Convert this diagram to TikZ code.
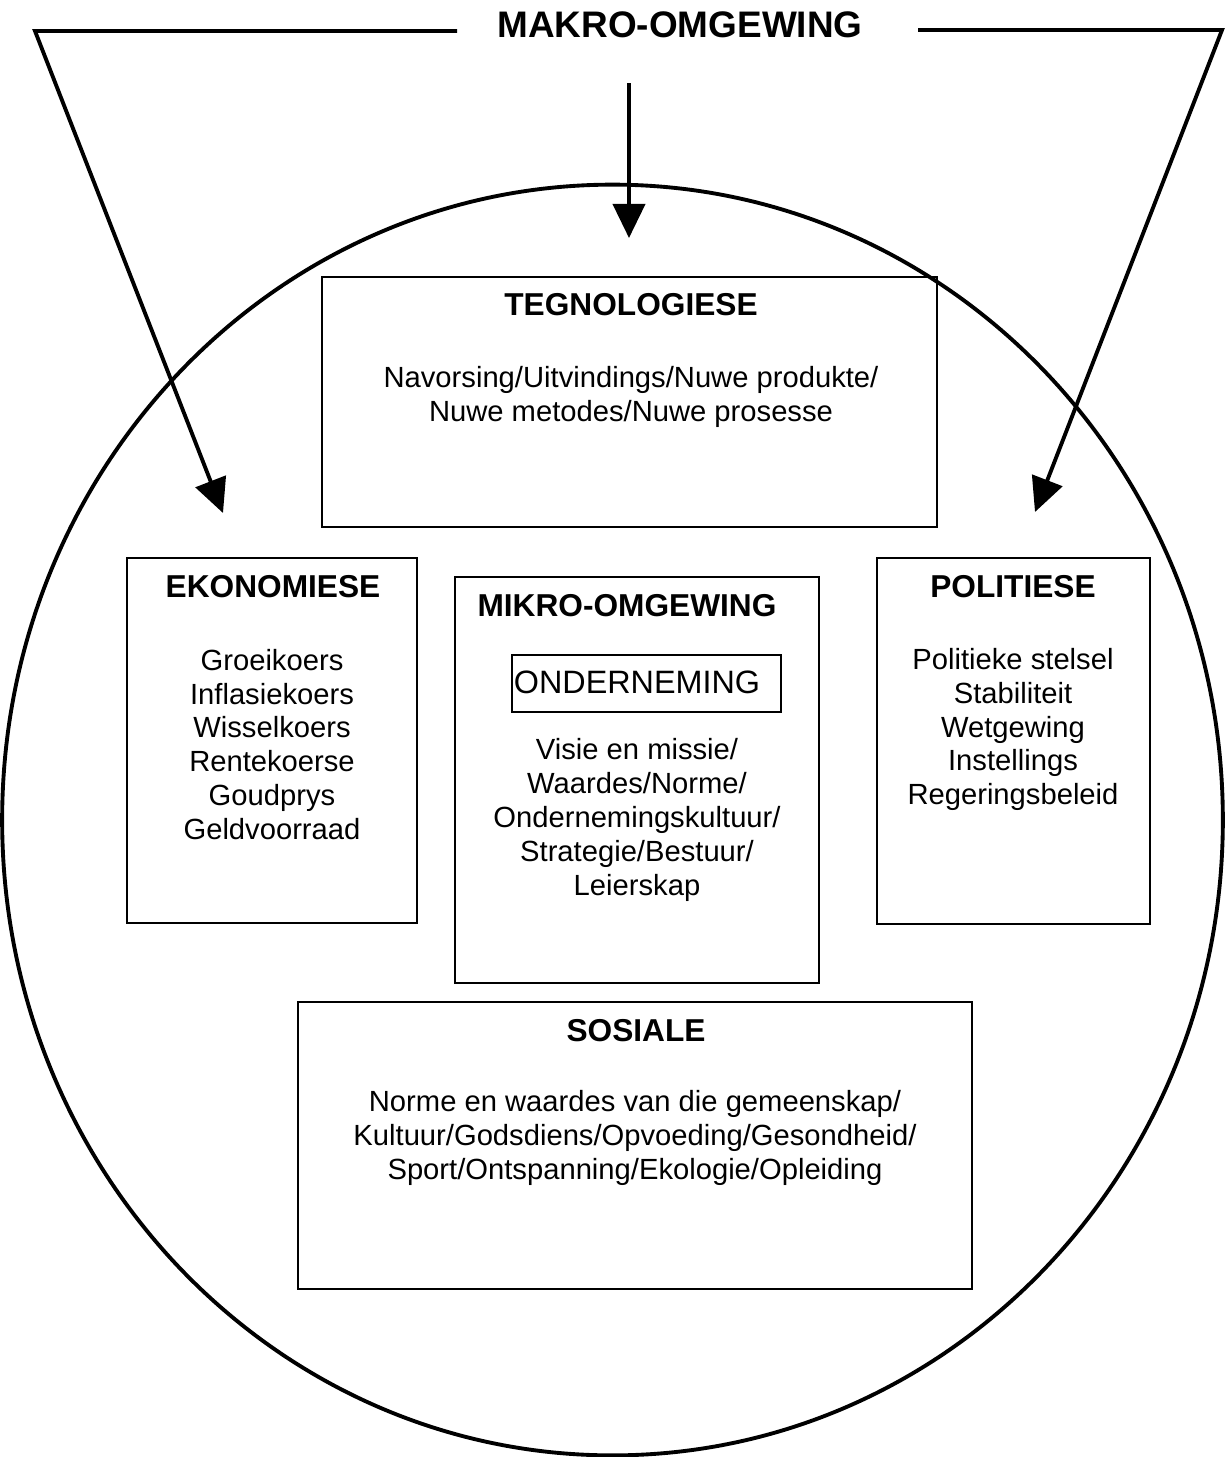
\documentclass[tikz,border=0pt]{standalone}
\usepackage{fontspec}
\setmainfont{Liberation Sans}
\usetikzlibrary{arrows.meta}

\begin{document}
\begin{tikzpicture}[x=0.01cm,y=-0.01cm,
	heavy/.style={line width=1.1pt},
	pointer/.style={heavy,-{Triangle[length=0.34cm,width=0.32cm]}},
	frame/.style={line width=0.6pt},
	head/.style={font=\fontsize{9}{10.5}\selectfont\bfseries},
	body/.style={font=\fontsize{8.3}{9.64}\selectfont,align=center}]

	% Page
	\useasboundingbox (0,0) rectangle (1225,1457);

	% Title
	\node[font=\fontsize{10.5}{12}\selectfont\bfseries] (makro) at (680,25) {MAKRO-OMGEWING};

	% Corners and tips of the side arrows
	\coordinate (lcorner) at (35,31);
	\coordinate (ltip) at (223,513);
	\coordinate (rcorner) at (1222,30);
	\coordinate (rtip) at (1035,512);
	\coordinate (ctop) at (629,83);
	\coordinate (ctip) at (629,238);

	% Side arrows
	\draw[pointer,line join=miter] (457,31) -- (lcorner) -- (ltip);
	\draw[pointer,line join=miter] (918,30) -- (rcorner) -- (rtip);

	% Centre arrow
	\draw[pointer] (ctop) -- (ctip);

	% Outline of the circle
	\draw[heavy] (612.5,820) ellipse [x radius=6.10cm, y radius=6.35cm];

	% Tegnologiese
	\draw[frame] (322,277) rectangle (937,527);
	\node[head] (tegno) at (631,305) {TEGNOLOGIESE};
	\node[body] (tegnotxt) at (631,396.5) {Navorsing/Uitvindings/Nuwe produkte/\\Nuwe metodes/Nuwe prosesse};

	% Ekonomiese
	\draw[frame] (127,558) rectangle (417,923);
	\node[head] (ekon) at (273,587) {EKONOMIESE};
	\node[body] (ekontxt) at (272,744.5) {Groeikoers\\Inflasiekoers\\Wisselkoers\\Rentekoerse\\Goudprys\\Geldvoorraad};

	% Mikro-omgewing
	\draw[frame] (455,577) rectangle (819,983);
	\node[head] (mikro) at (627,606) {MIKRO-OMGEWING};
	\draw[frame] (512,655) rectangle (781,712);
	\node[font=\fontsize{9.2}{10.5}\selectfont] (onder) at (637,682) {ONDERNEMING};
	\node[body] (mikrotxt) at (637,820) {Visie en missie/\\Waardes/Norme/\\Ondernemingskultuur/\\Strategie/Bestuur/\\Leierskap};

	% Politiese
	\draw[frame] (877,558) rectangle (1150,924);
	\node[head] (polit) at (1013,587) {POLITIESE};
	\node[body] (polittxt) at (1013,729.5) {Politieke stelsel\\Stabiliteit\\Wetgewing\\Instellings\\Regeringsbeleid};

	% Sosiale
	\draw[frame] (298,1002) rectangle (972,1289);
	\node[head] (sosi) at (636,1031) {SOSIALE};
	\node[body] (sositxt) at (635,1138) {Norme en waardes van die gemeenskap/\\Kultuur/Godsdiens/Opvoeding/Gesondheid/\\Sport/Ontspanning/Ekologie/Opleiding};

\end{tikzpicture}
\end{document}
